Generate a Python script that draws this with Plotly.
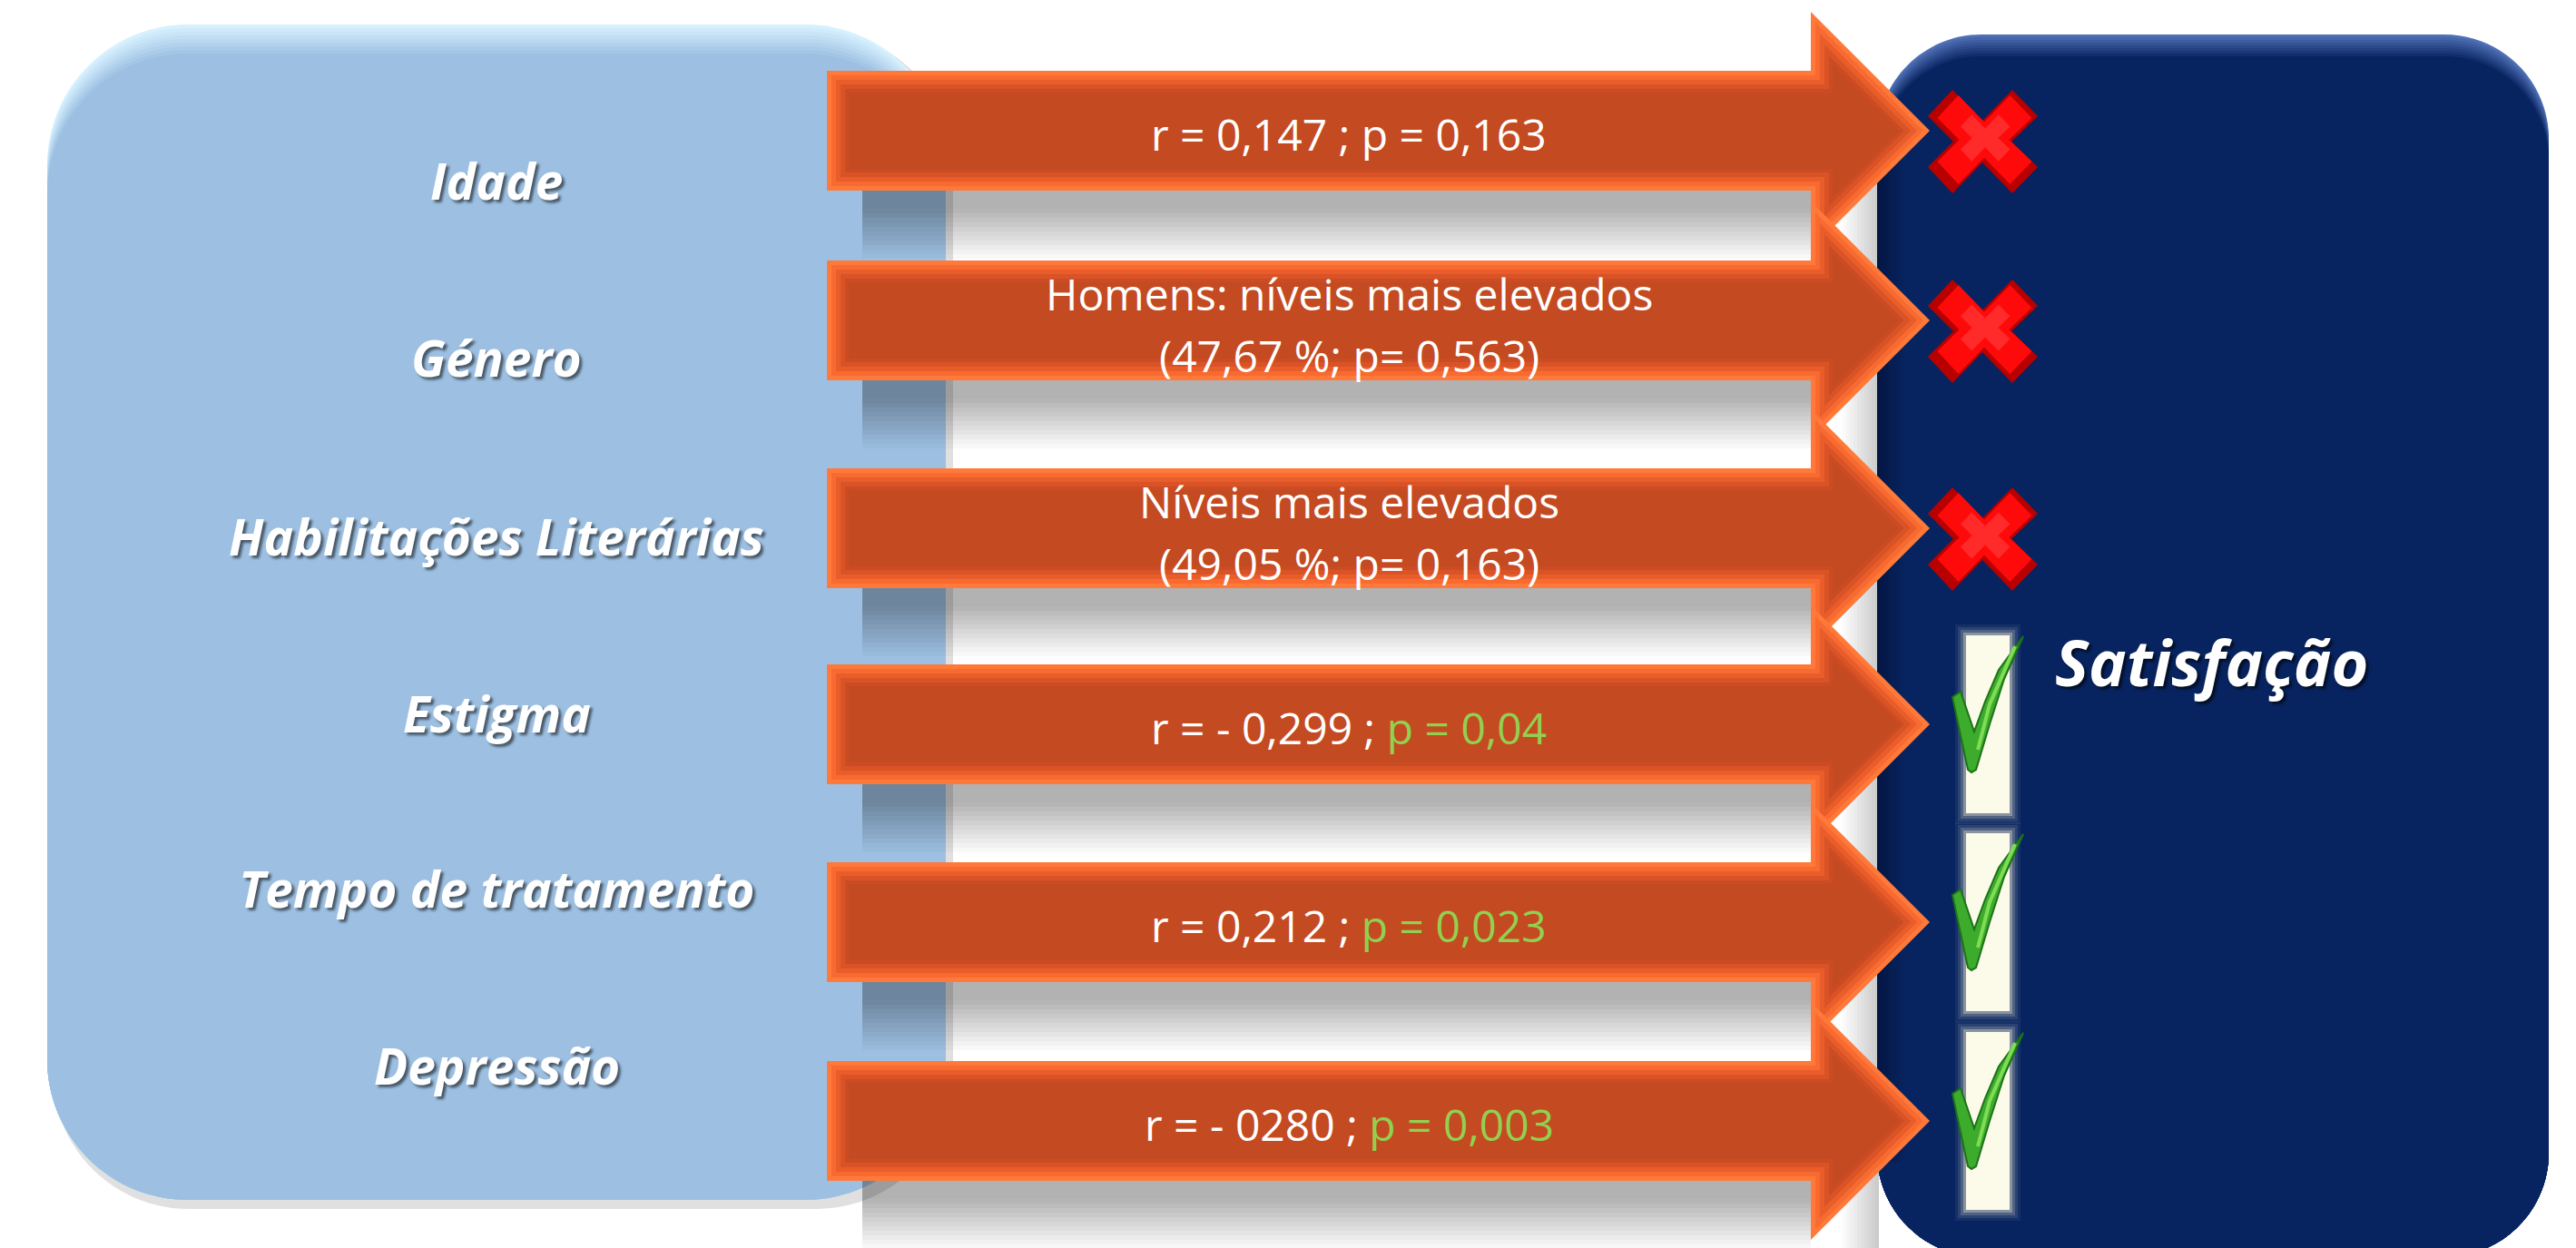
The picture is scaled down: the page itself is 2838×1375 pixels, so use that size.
import plotly.graph_objects as go

# ---------------- data ----------------
factors = ["Idade", "Género", "Habilitações Literárias", "Estigma",
           "Tempo de tratamento", "Depressão"]
stat_lines = [
    ["r = 0,147 ; p = 0,163"],
    ["Homens: níveis mais elevados", "(47,67 %; p= 0,563)"],
    ["Níveis mais elevados", "(49,05 %; p= 0,163)"],
    ["r = - 0,299 ; "],
    ["r = 0,212 ; "],
    ["r = - 0280 ; "],
]
p_significant_text = ["", "", "", "p = 0,04", "p = 0,023", "p = 0,003"]
significant = [False, False, False, True, True, True]
outcome = "Satisfação"

# ---------------- layout constants ----------------
W, H = 2838, 1375
LABEL_X = 547
LABEL_Y = [198, 393, 590, 785, 978, 1173]
ARROW_CY = [144, 353, 582, 798, 1016, 1235]
ARROW_X0, HEAD_X, TIP_X = 911, 1995, 2126
BODY_HALF, HEAD_HALF = 66, 131
TEXT_X = 1486
MARK_X = 2184
GREEN_TXT = "#92d050"

shapes = []


def hex2rgb(h):
    h = h.lstrip("#")
    return tuple(int(h[i:i + 2], 16) for i in (0, 2, 4))


def lerp(c1, c2, t):
    a, b = hex2rgb(c1), hex2rgb(c2)
    return "#%02x%02x%02x" % tuple(round(a[i] + (b[i] - a[i]) * t) for i in range(3))


def poly(pts):
    return "M " + " L ".join(f"{x:.1f},{y:.1f}" for x, y in pts) + " Z"


def rrect(x0, y0, x1, y1, r):
    k = 0.5523 * r
    return (f"M {x0 + r},{y0} L {x1 - r},{y0} "
            f"C {x1 - r + k},{y0} {x1},{y0 + r - k} {x1},{y0 + r} "
            f"L {x1},{y1 - r} C {x1},{y1 - r + k} {x1 - r + k},{y1} {x1 - r},{y1} "
            f"L {x0 + r},{y1} C {x0 + r - k},{y1} {x0},{y1 - r + k} {x0},{y1 - r} "
            f"L {x0},{y0 + r} C {x0},{y0 + r - k} {x0 + r - k},{y0} {x0 + r},{y0} Z")


def add_path(path, fill, opacity=1.0, lw=0, lc=None):
    shapes.append(dict(type="path", path=path, xref="x", yref="y",
                       fillcolor=fill, opacity=opacity,
                       line=dict(width=lw, color=lc or fill)))


def add_rect(x0, y0, x1, y1, fill, opacity=1.0):
    shapes.append(dict(type="rect", x0=x0, y0=y0, x1=x1, y1=y1, xref="x", yref="y",
                       fillcolor=fill, opacity=opacity, line=dict(width=0)))


# ---------------- left box ----------------
add_path(rrect(58, 35, 1050, 1332, 150), "#000000", 0.12)
for i in range(9):
    add_path(rrect(52, 27 + 4 * i, 1042, 1322, 155), lerp("#d6f0fe", "#9dc0e2", i / 8))

# ---------------- right box ----------------
for j in range(10):
    add_rect(2030 + 4 * j, 150, 2034 + 4 * j, 1375, "#000000", 0.02 * (j + 1))
for i in range(9):
    add_path(rrect(2068, 38 + 3 * i, 2808, 1385, 115), lerp("#4f70b6", "#082460", i / 8))
for j in range(10):
    add_rect(2068 + 3 * j, 150, 2071 + 3 * j, 1280, "#000a28", 0.5 * (1 - j / 10))

# ---------------- arrow shadows ----------------
for cy in ARROW_CY:
    y0 = cy + BODY_HALF
    for s in range(15):
        t = s * 5
        op = 0.30 if t < 18 else 0.30 * max(0.0, (75 - t)) / 57
        add_rect(950, y0 + t, HEAD_X, y0 + t + 5, "#000000", op)

# ---------------- arrows ----------------
arrow_layers = [(0, "#ff7a3a"), (5, "#f86a30"), (10, "#e95d2b"),
                (15, "#d95327"), (20, "#cb4c23"), (24, "#c44a22")]


def arrow_pts(cy, d):
    return [(ARROW_X0 + d, cy - BODY_HALF + d), (HEAD_X + d, cy - BODY_HALF + d),
            (HEAD_X + d, cy - HEAD_HALF + 2.414 * d), (TIP_X - 1.414 * d, cy),
            (HEAD_X + d, cy + HEAD_HALF - 2.414 * d), (HEAD_X + d, cy + BODY_HALF - d),
            (ARROW_X0 + d, cy + BODY_HALF - d)]


for cy in ARROW_CY:
    for d, col in arrow_layers:
        add_path(poly(arrow_pts(cy, d)), col)

# ---------------- marks ----------------
X_SHAPE = [(-60, -28), (-33, -57), (0, -23), (33, -57), (61, -28), (32, 0),
           (61, 28), (33, 57), (0, 23), (-33, 57), (-60, 28), (-32, 0)]
CHECK_SHAPE = [(-21, -80), (-12, -86), (3, -42), (15, -75), (30, -110), (57, -147),
               (36, -100), (20, -50), (5, 0), (0, 3), (-4, 0)]

for cy, sig in zip(ARROW_CY, significant):
    if not sig:
        cx, cyy = MARK_X, cy + 12
        add_path(poly([(cx + x, cyy + y) for x, y in X_SHAPE]), "#b80000")
        add_path(poly([(cx + 0.86 * x + 2, cyy + 0.86 * y - 2) for x, y in X_SHAPE]), "#ff0a0a")
        add_path(poly([(cx + 0.45 * x + 3, cyy + 0.45 * y - 4) for x, y in X_SHAPE]), "#ff2a2a")
    else:
        # glowing cream bar
        for g, op in [(12, 0.06), (9, 0.1), (6, 0.18), (3, 0.35)]:
            add_rect(2166 - g, cy - 98 - g, 2214 + g, cy + 98 + g, "#f6f2d8", op)
        add_rect(2166, cy - 98, 2214, cy + 98, "#fcfae8", 1.0)
        bx, by = 2172, cy + 50
        add_path(poly([(bx + x, by + y) for x, y in CHECK_SHAPE]), "#3dab2c", 1.0, 2, "#1c7318")
        shapes.append(dict(type="path", xref="x", yref="y",
                           path=f"M {bx + 7},{by - 22} L {bx + 20},{by - 72} L {bx + 48},{by - 136}",
                           line=dict(color="#7fdc55", width=4)))

# ---------------- annotations ----------------
annotations = []
label_font = dict(family="Open Sans, Lato, sans-serif", size=55, color="white",
                  weight="bold", style="italic", shadow="3px 3px 3px rgba(0,0,0,0.55)")
for name, y in zip(factors, LABEL_Y):
    annotations.append(dict(x=LABEL_X, y=y, xref="x", yref="y", text=name, showarrow=False,
                            xanchor="center", yanchor="middle", font=label_font))

stat_font = dict(family="Open Sans, Lato, sans-serif", size=48, color="white")
for cy, lines, ptxt in zip(ARROW_CY, stat_lines, p_significant_text):
    if len(lines) == 1:
        txt = lines[0]
        if ptxt:
            txt += f"<span style='color:{GREEN_TXT}'>{ptxt}</span>"
        annotations.append(dict(x=TEXT_X, y=cy + 3, xref="x", yref="y", text=txt,
                                showarrow=False, xanchor="center", yanchor="middle",
                                font=stat_font))
    else:
        for k, ln in enumerate(lines):
            annotations.append(dict(x=TEXT_X, y=cy - 30 + 68 * k, xref="x", yref="y", text=ln,
                                    showarrow=False, xanchor="center", yanchor="middle",
                                    font=stat_font))

annotations.append(dict(x=2436, y=729, xref="x", yref="y", text=outcome, showarrow=False,
                        xanchor="center", yanchor="middle",
                        font=dict(family="Open Sans, Lato, sans-serif", size=70, color="white",
                                  weight="bold", style="italic",
                                  shadow="3px 3px 3px rgba(0,0,0,0.6)")))

fig = go.Figure()
fig.add_trace(go.Scatter(x=[0, W], y=[0, H], mode="markers",
                         marker=dict(opacity=0), hoverinfo="skip", showlegend=False))
fig.update_layout(
    width=W, height=H, autosize=False,
    margin=dict(l=0, r=0, t=0, b=0, pad=0),
    paper_bgcolor="white", plot_bgcolor="white",
    xaxis=dict(range=[0, W], visible=False, fixedrange=True),
    yaxis=dict(range=[H, 0], visible=False, fixedrange=True),
    shapes=shapes, annotations=annotations, showlegend=False,
)
fig.write_html("out.html", config={"displayModeBar": False})
